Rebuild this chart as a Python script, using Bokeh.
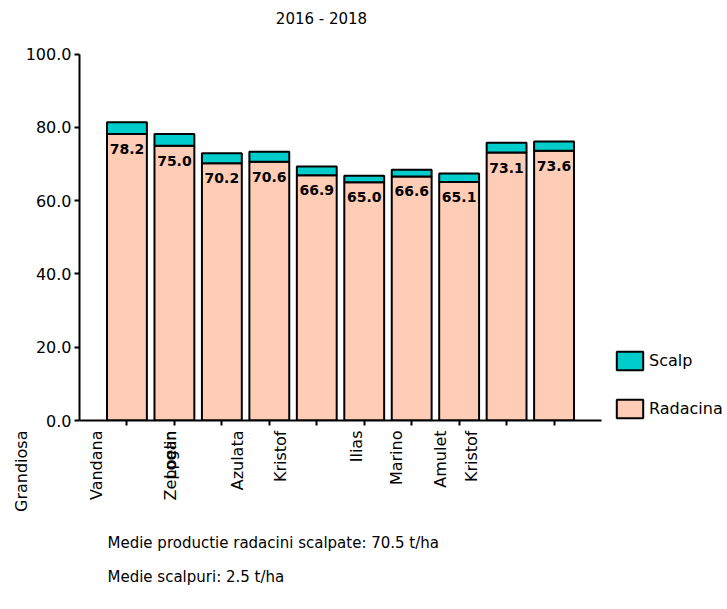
from math import pi

from bokeh.plotting import figure
from bokeh.layouts import column
from bokeh.models import (Range1d, FixedTicker, PrintfTickFormatter, Label,
                          Legend, LegendItem, ColumnDataSource)
from bokeh.core.properties import value
from bokeh.embed import file_html
from bokeh.resources import INLINE

# ---- data -------------------------------------------------------------
title_text = "2016 - 2018"
varieties = ["Grandiosa", "Vandana", "Zeppelin", "Logan", "Azulata",
             "Kristof", "Ilias", "Marino", "Amulet", "Kristof"]
radacina = [78.2, 75.0, 70.2, 70.6, 66.9, 65.0, 66.6, 65.1, 73.1, 73.6]
scalp = [3.2, 3.2, 2.7, 2.7, 2.4, 1.8, 1.8, 2.3, 2.7, 2.5]
y_ticks = [0, 20, 40, 60, 80, 100]
footer_lines = ["Medie productie radacini scalpate: 70.5 t/ha",
                "Medie scalpuri: 2.5 t/ha"]

# where each variety name sits along the bar axis (bar i is centred on i)
name_pos = [-1.22, 0.36, 1.92, 1.92, 3.34, 4.24, 5.83, 6.67, 7.60, 8.27]

FONT = "DejaVu Sans"
PEACH = "#FFCDB5"
CYAN = "#00CCCC"

W, H = 727, 609
LEFT = 79            # room for the value axis
TOP_H = 430          # height of the chart part
PX_PER_BAR = 522 / 11.0
X_LO = -LEFT / PX_PER_BAR
X_HI = (W - LEFT) / PX_PER_BAR

xs = list(range(1, len(radacina) + 1))
src = ColumnDataSource(dict(
    x=xs,
    rad=radacina,
    top=[r + s for r, s in zip(radacina, scalp)],
    lbl=["%.1f" % r for r in radacina],
))

# ---- chart ------------------------------------------------------------
p = figure(width=W, height=TOP_H,
           x_range=Range1d(0, X_HI), y_range=Range1d(0, 114.6),
           min_border_left=LEFT, min_border_right=0,
           min_border_top=0, min_border_bottom=10,
           toolbar_location=None, output_backend="svg")
p.frame_align = False
p.outline_line_color = None
p.grid.visible = False

# stacked bars: root yield with the scalp portion on top
r_rad = p.vbar(x="x", bottom=0, top="rad", width=0.84, source=src,
               fill_color=PEACH, line_color="black", line_width=2)
r_scalp = p.vbar(x="x", bottom="rad", top="top", width=0.84, source=src,
                 fill_color=CYAN, line_color="black", line_width=2)

# values written inside the root segment
p.text(x="x", y="rad", text="lbl", source=src,
       text_align="center", text_baseline="alphabetic", y_offset=15,
       text_font=value(FONT), text_font_style="bold",
       text_font_size="14px", text_color="black")

for ax in (p.xaxis[0], p.yaxis[0]):
    ax.axis_line_width = 2
    ax.axis_line_color = "black"
    ax.major_tick_line_width = 2
    ax.major_tick_line_color = "black"
    ax.major_tick_in = 0
    ax.major_tick_out = 5
    ax.minor_tick_line_color = None

p.yaxis.bounds = (0, 100)
p.yaxis.ticker = FixedTicker(ticks=y_ticks)
p.yaxis.formatter = PrintfTickFormatter(format="%.1f")
p.yaxis.major_label_text_font = FONT
p.yaxis.major_label_text_font_size = "16px"
p.yaxis.major_label_text_color = "black"
p.yaxis.major_label_standoff = 3

p.xaxis.bounds = (0, 11)
p.xaxis.ticker = FixedTicker(ticks=xs)
p.xaxis.major_label_overrides = {x: "" for x in xs}
p.xaxis.major_label_text_font_size = "0px"
p.xaxis.major_label_standoff = 0

p.add_layout(Label(x=242, y=402, x_units="screen", y_units="screen",
                   text=title_text, text_align="center",
                   text_baseline="middle",
                   text_font=FONT, text_font_size="15px",
                   text_color="black"))

legend = Legend(items=[LegendItem(label="Scalp", renderers=[r_scalp]),
                       LegendItem(label="Radacina", renderers=[r_rad])],
                location=(534, 0), orientation="vertical",
                glyph_width=33, glyph_height=23, spacing=25,
                label_standoff=3, padding=0, margin=0,
                border_line_color=None, background_fill_alpha=0,
                label_text_font=FONT, label_text_font_size="16px",
                label_text_color="black")
p.add_layout(legend)

# ---- variety names and summary lines under the chart ---------------------
bottom_h = H - TOP_H
q = figure(width=W, height=bottom_h,
           x_range=Range1d(X_LO, X_HI), y_range=Range1d(bottom_h, 0),
           x_axis_type=None, y_axis_type=None,
           min_border=0, toolbar_location=None, output_backend="svg")
q.frame_align = False
q.outline_line_color = None
q.grid.visible = False

q.text(x=name_pos, y=[0] * len(varieties), text=varieties,
       angle=pi / 2, text_align="right", text_baseline="middle",
       text_font=value(FONT), text_font_size="16px", text_color="black")

q.text(x=[0.59] * len(footer_lines), y=[112, 146], text=footer_lines,
       text_align="left", text_baseline="middle",
       text_font=value(FONT), text_font_size="15px", text_color="black")

layout = column(p, q, spacing=0)
open("out.html", "w").write(file_html(layout, INLINE))
